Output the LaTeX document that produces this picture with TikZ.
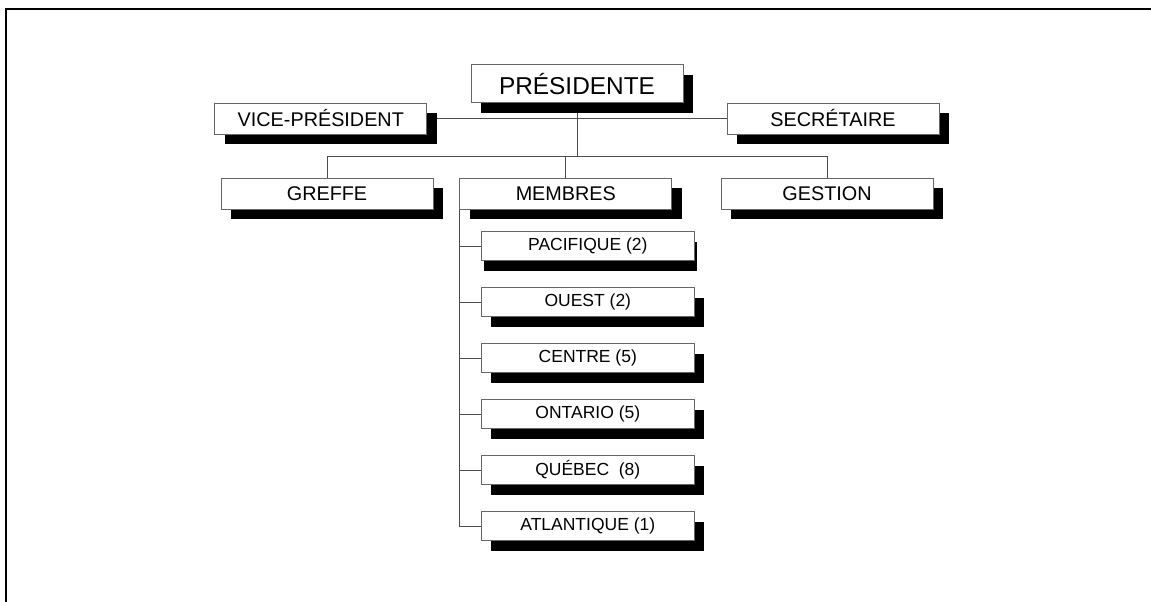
\documentclass[tikz,border=0pt]{standalone}
\usepackage{fontspec}
\setmainfont{Liberation Sans}
\usetikzlibrary{shadows,backgrounds}

\tikzset{
  shadowed/.style={drop shadow={shadow xshift=#1, shadow yshift=-10pt, fill=black, opacity=1}},
  shadowed/.default=10pt,
  boxbase/.style={draw=black!60, line width=0.9pt, fill=white, inner sep=0pt, outer sep=0pt,
    minimum width=212pt, minimum height=31pt},
  orgbox/.style={boxbase, shadowed, font=\fontsize{19.8}{23}\selectfont},
  topbox/.style={orgbox, minimum height=38pt, font=\fontsize{24.4}{28}\selectfont},
  subbox/.style={boxbase, shadowed=#1, minimum width=213pt, minimum height=29pt,
    font=\fontsize{17.5}{21}\selectfont},
  subbox/.default=10pt,
  link/.style={draw=black!70, line width=0.9pt},
}

\begin{document}
\begin{tikzpicture}[x=1pt, y=-1pt]
  \useasboundingbox (0,0) rectangle (1151,602);

  % Frame
  \draw[line width=2pt] (6,602) -- (6,9) -- (1151,9);

  % Top level
  \node[topbox] (pres) at (577,83.7) {PRÉSIDENTE};
  \node[orgbox] (vp) at (320.8,118.5) {VICE-PRÉSIDENT};
  \node[orgbox] (sec) at (833,118.5) {SECRÉTAIRE};

  % Second level
  \node[orgbox] (greffe) at (327,193.8) {GREFFE};
  \node[orgbox] (membres) at (565.8,193.8) {MEMBRES};
  \node[orgbox] (gestion) at (827,193.8) {GESTION};

  % Regions
  \node[subbox=3pt] (pac) at (587.8,246.2) {PACIFIQUE (2)};
  \node[subbox] (ouest) at (587.8,302.2) {OUEST (2)};
  \node[subbox] (centre) at (587.8,358.2) {CENTRE (5)};
  \node[subbox] (ont) at (587.8,414.2) {ONTARIO (5)};
  \node[subbox] (qc) at (587.8,470.2) {QUÉBEC\ \ (8)};
  \node[subbox] (atl) at (587.8,526.2) {ATLANTIQUE (1)};

  % Connectors
  \begin{scope}[on background layer]
    \coordinate (bus) at (577,156.7);
    \draw[link] (vp.east) -- (sec.west);
    \draw[link] (pres.south) -- (bus);
    \draw[link] (greffe.north) |- (bus) -| (gestion.north);
    \draw[link] (membres.north) -- (membres.north |- bus);
    \draw[link] (membres.south west) |- (atl.west);
    \foreach \r in {pac,ouest,centre,ont,qc}
      \draw[link] (\r.west) -- (\r.west -| membres.south west);
  \end{scope}
\end{tikzpicture}
\end{document}
